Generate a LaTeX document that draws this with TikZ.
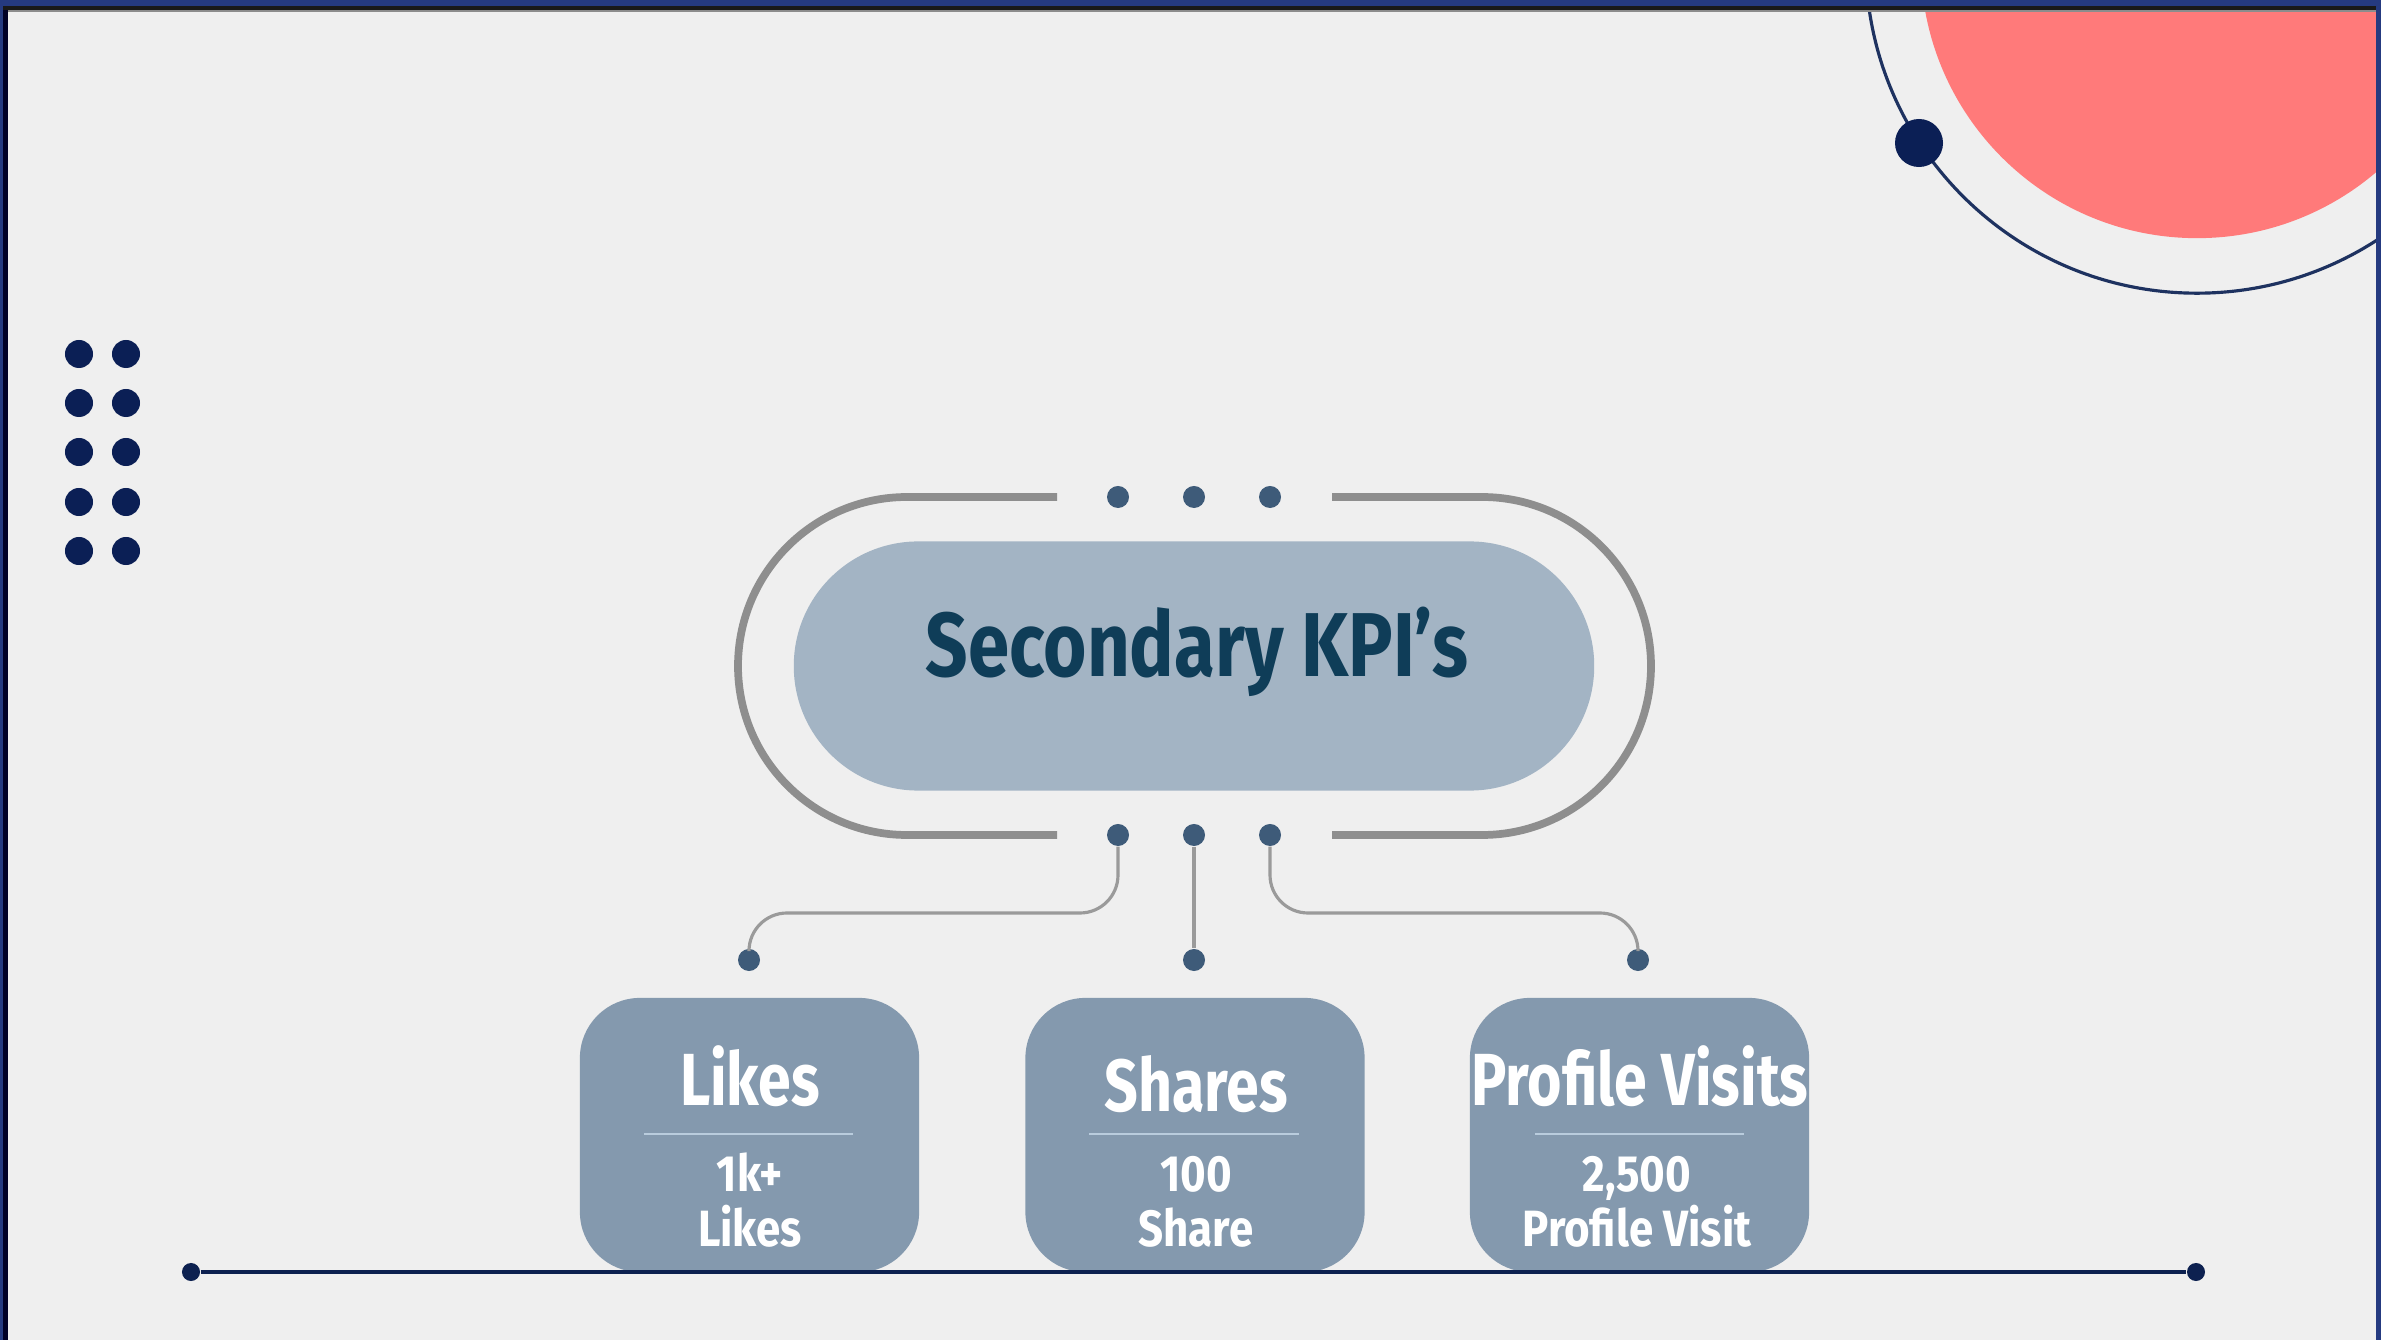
\documentclass[tikz,border=0pt]{standalone}
\usepackage{fontspec}
\newfontfamily\kpifont{Fira Sans}[FakeStretch=0.8]
\newfontfamily\kpivaluefont{Fira Sans}[FakeStretch=0.86]
\newfontfamily\kpititlefont{Fira Sans}[FakeStretch=0.82]
\definecolor{bgcol}{HTML}{EFEFEF}
\definecolor{pinkcol}{HTML}{FF7A7A}
\definecolor{ringcol}{HTML}{1E3260}
\definecolor{navycol}{HTML}{0B1F55}
\definecolor{framecol}{HTML}{253A80}
\definecolor{capgray}{HTML}{8E8E8E}
\definecolor{innercol}{HTML}{A3B4C4}
\definecolor{titlecol}{HTML}{0F3D58}
\definecolor{dotcol}{HTML}{3E5B79}
\definecolor{conncol}{HTML}{9A9A9A}
\definecolor{boxcol}{HTML}{8499AE}
\definecolor{rulecol}{HTML}{B9CCDD}
\definecolor{basecol}{HTML}{0D2150}
\begin{document}
\begin{tikzpicture}[x=0.01cm,y=-0.01cm,
  navydot/.style={circle,fill=navycol,inner sep=0pt,minimum size=0.28cm},
  hubdot/.style={circle,fill=dotcol,inner sep=0pt,minimum size=0.22cm},
  conn/.style={draw=conncol,line width=0.9pt,rounded corners=0.38cm},
  capline/.style={draw=capgray,line width=2.2pt,rounded corners=1.69cm},
  kpibox/.style={rectangle,rounded corners=0.6cm,fill=boxcol,minimum width=3.39cm,minimum height=2.74cm,inner sep=0pt},
  boxtitle/.style={font=\kpifont\bfseries\fontsize{21}{24}\selectfont,text=white,inner sep=0pt,anchor=base},
  boxvalue/.style={font=\kpivaluefont\bfseries\fontsize{14.5}{17}\selectfont,text=white,inner sep=0pt,anchor=base},
  boxrule/.style={draw=rulecol,line width=0.6pt},
  enddot/.style={circle,fill=basecol,inner sep=0pt,minimum size=0.18cm}]

% page and background
\useasboundingbox (0,0) rectangle (2381,1340);
\fill[bgcol] (0,0) rectangle (2381,1340);

% corner decoration: filled disc and thin orbit with a bead
\begin{scope}
  \clip (0,0) rectangle (2381,1340);
  \fill[pinkcol] (2197,-38) circle[radius=2.76cm];
  \draw[ringcol,line width=0.9pt] (2197,-38) circle[radius=3.31cm];
  \node[circle,fill=navycol,inner sep=0pt,minimum size=0.48cm] (bead) at (1919,143) {};
\end{scope}

% frame
\fill[framecol] (0,0) rectangle (2381,6);
\fill[black!90] (0,6) rectangle (2381,10);
\fill[black!45] (0,10) rectangle (2381,12);
\fill[framecol] (0,0) rectangle (3,1340);
\fill[black!85!blue] (3,10) rectangle (8,1340);
\fill[framecol] (2376,0) rectangle (2381,1340);

% dot grid on the left
\foreach \r/\yy in {1/354,2/403,3/452,4/502,5/551}{
  \node[navydot] (g\r a) at (79,\yy) {};
  \node[navydot] (g\r b) at (126,\yy) {};
}

% outer open capsule
\draw[capline] (1057,497) -- (738,497) -- (738,835) -- (1057,835);
\draw[capline] (1332,497) -- (1651,497) -- (1651,835) -- (1332,835);

% hub dots in the capsule gaps
\node[hubdot] (t1) at (1118,497) {};
\node[hubdot] (t2) at (1194,497) {};
\node[hubdot] (t3) at (1270,497) {};
\node[hubdot] (b1) at (1118,835) {};
\node[hubdot] (b2) at (1194,835) {};
\node[hubdot] (b3) at (1270,835) {};

% central title
\node[rectangle,rounded corners=1.244cm,fill=innercol,minimum width=8.0cm,minimum height=2.49cm,inner sep=0pt] (hub) at (1194,666) {};
\node[font=\kpititlefont\bfseries\fontsize{25.8}{30}\selectfont,text=titlecol,inner sep=0pt] (title) at (1197,652) {Secondary KPI’s};

% branch end dots
\node[hubdot] (l1) at (749,960) {};
\node[hubdot] (l2) at (1194,960) {};
\node[hubdot] (l3) at (1638,960) {};

% connectors
\coordinate (lev) at (0,913);
\draw[conn] (b1) -- (b1 |- lev) -- (l1 |- lev) -- (l1);
\draw[conn] (b2) -- (l2);
\draw[conn] (b3) -- (b3 |- lev) -- (l3 |- lev) -- (l3);

% KPI boxes
\node[kpibox] (likes) at (749.5,1135) {};
\node[kpibox] (shares) at (1195,1135) {};
\node[kpibox] (visits) at (1639.5,1135) {};

\node[boxtitle] (likesT) at (750,1106) {Likes};
\node[boxtitle] (sharesT) at (1196,1111) {Shares};
\node[boxtitle] (visitsT) at (1640,1106) {Profile Visits};

\draw[boxrule] (644,1134) -- (853,1134);
\draw[boxrule] (1089,1134) -- (1299,1134);
\draw[boxrule] (1535,1134) -- (1744,1134);

\node[boxvalue] (likesV) at (750,1191) {1k+};
\node[boxvalue] (likesU) at (750,1246) {Likes};
\node[boxvalue] (sharesV) at (1196,1191) {100};
\node[boxvalue] (sharesU) at (1196,1246) {Share};
\node[boxvalue] (visitsV) at (1637,1191) {2,500};
\node[boxvalue] (visitsU) at (1637,1246) {Profile Visit};

% baseline
\node[enddot] (bl) at (191,1272) {};
\node[enddot] (br) at (2196,1272) {};
\draw[basecol,line width=1.2pt] (bl) -- (br);
\end{tikzpicture}
\end{document}
